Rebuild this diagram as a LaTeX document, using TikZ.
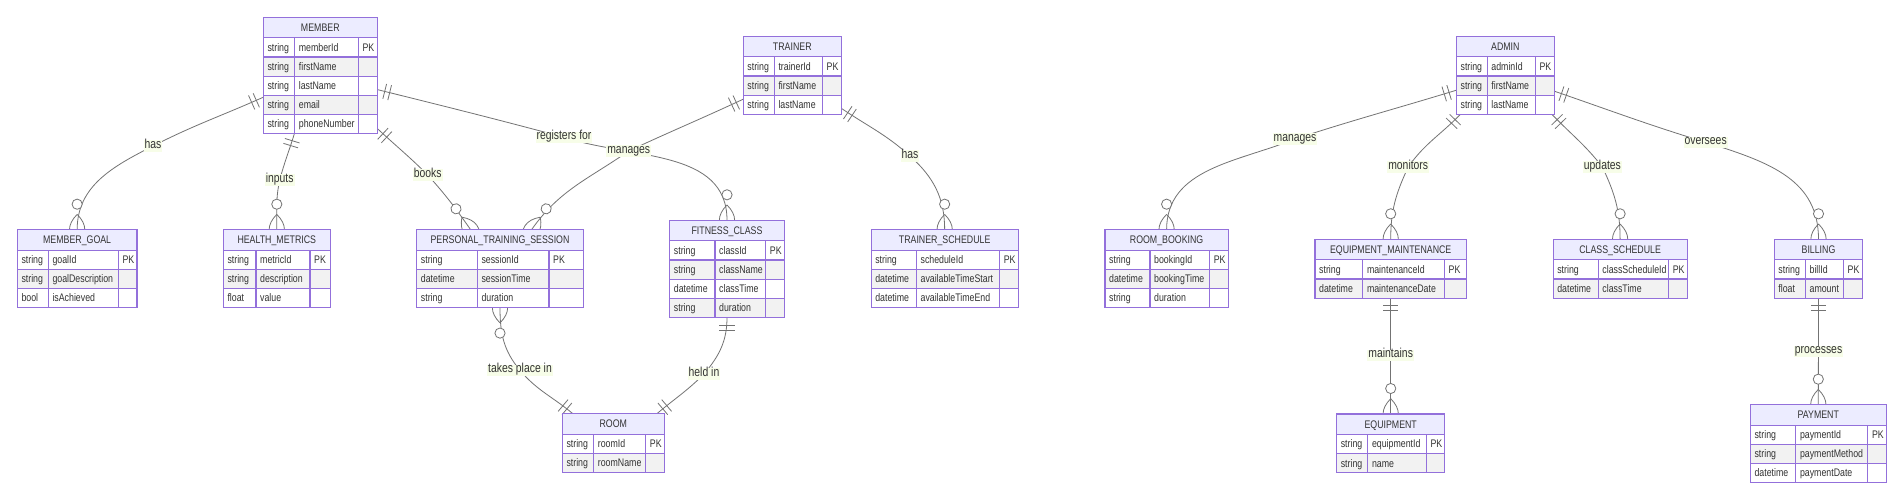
\documentclass[tikz,border=0pt]{standalone}
\usepackage{fontspec}
\setmainfont{Liberation Sans}[FakeStretch=0.8]
\usetikzlibrary{calc}
\definecolor{erpurple}{RGB}{147,112,219}
\definecolor{hdrfill}{RGB}{236,236,255}
\definecolor{rowgray}{RGB}{242,242,242}
\definecolor{txt}{RGB}{51,51,51}
\definecolor{linegray}{RGB}{115,115,115}
\definecolor{lblbg}{RGB}{247,253,232}
\pgfdeclarelayer{bgl}\pgfdeclarelayer{edges}\pgfsetlayers{bgl,edges,main}
\def\erhh{20.6}\def\errh{19.1}
\newcommand{\attrfont}{\fontsize{11}{12}\selectfont}
\newcommand{\lblfont}{\fontsize{13}{14}\selectfont}
\tikzset{
  erline/.style={draw=erpurple,line width=1.1pt},
  attr/.style={anchor=base west,inner sep=0pt,font=\attrfont,text=txt},
  etitle/.style={anchor=base,inner sep=0pt,font=\attrfont,text=txt},
  ebox/.style={inner sep=0pt,outer sep=0pt},
  relline/.style={draw=linegray,line width=0.8pt},
  lbl/.style={fill=lblbg,inner sep=1pt,font=\lblfont,text=txt,text height=0.72em,text depth=0.22em},
  onebar/.pic={\draw[relline] (7.65,-7.65) -- (7.65,7.65) (12.75,-7.65) -- (12.75,7.65);},
  zmany/.pic={\draw[relline] (15.3,0) .. controls (5.1,10.2) and (-5.1,10.2) .. (-15.3,0)
      (15.3,0) .. controls (5.1,-10.2) and (-5.1,-10.2) .. (-15.3,0);
      \draw[relline,fill=white] (25.5,0) circle[radius=5.1];}
}
% #1 name, #2 left, #3 top, #4 col1, #5 col2, #6 right, #7 title, #8 rows
\newcommand{\erbox}[8]{%
  \gdef\ern{0}%
  \foreach \ty/\nm/\ky [count=\i] in {#8} {\xdef\ern{\i}}%
  \pgfmathsetmacro{\erH}{\erhh+\ern*\errh}%
  \pgfmathsetmacro{\erW}{#6-#2}%
  \node[ebox,minimum width=\erW pt,minimum height=\erH pt,anchor=north west] (#1) at (#2,-#3) {};
  \fill[hdrfill] (#2,-#3) rectangle (#6,-#3-\erhh);
  \node[etitle] at ({(#2+#6)/2},-#3-\erhh/2-3.9) {#7};
  \foreach \ty/\nm/\ky [count=\i from 0] in {#8} {
    \pgfmathsetmacro{\yt}{#3+\erhh+\i*\errh}
    \pgfmathsetmacro{\yb}{\yt+\errh}
    \pgfmathsetmacro{\yc}{\yt+\errh/2+3.8}
    \ifodd\i\relax \def\rf{rowgray}\else\def\rf{white}\fi
    \fill[\rf] (#2,-\yt) rectangle (#6,-\yb);
    \draw[erline] (#2,-\yt) -- (#6,-\yt);
    \node[attr] at (#2+4,-\yc) {\ty};
    \node[attr] at (#4+4,-\yc) {\nm};
    \node[attr] at (#5+4,-\yc) {\ky};
  }
  \draw[erline] (#4,-#3-\erhh) -- (#4,-#3-\erH) (#5,-#3-\erhh) -- (#5,-#3-\erH);
  \draw[erline] (#1.north west) rectangle (#1.south east);
}
\begin{document}
\begin{tikzpicture}[x=1pt,y=1pt]
\useasboundingbox (0,0) rectangle (1904,-500);
\begin{pgfonlayer}{bgl}
\fill[white] (0,0) rectangle (1904,-500);
\end{pgfonlayer}
% entities
\erbox{member}{263.3}{17.3}{294.7}{358.3}{377.3}{MEMBER}{string/memberId/PK,string/firstName/{},string/lastName/{},string/email/{},string/phoneNumber/{}}
\erbox{mgoal}{17.3}{229.7}{48.3}{118.3}{137}{MEMBER\_GOAL}{string/goalId/PK,string/goalDescription/{},bool/isAchieved/{}}
\erbox{health}{223.3}{229.7}{256}{310}{330.3}{HEALTH\_METRICS}{string/metricId/PK,string/description/{},float/value/{}}
\erbox{pts}{416.7}{229.7}{477.3}{549}{583.3}{PERSONAL\_TRAINING\_SESSION}{string/sessionId/PK,datetime/sessionTime/{},string/duration/{}}
\erbox{fc}{669.7}{220.3}{715}{765.7}{784.3}{FITNESS\_CLASS}{string/classId/PK,string/className/{},datetime/classTime/{},string/duration/{}}
\erbox{room}{562.3}{413.7}{593.7}{645.7}{664.3}{ROOM}{string/roomId/PK,string/roomName/{}}
\erbox{trainer}{743.2}{36.3}{774.3}{822.5}{841.4}{TRAINER}{string/trainerId/PK,string/firstName/{},string/lastName/{}}
\erbox{tsched}{871.1}{229.7}{916.4}{999.6}{1018.2}{TRAINER\_SCHEDULE}{string/scheduleId/PK,datetime/availableTimeStart/{},datetime/availableTimeEnd/{}}
\erbox{rbook}{1105}{229.7}{1150}{1209.6}{1228.2}{ROOM\_BOOKING}{string/bookingId/PK,datetime/bookingTime/{},string/duration/{}}
\erbox{admin}{1456.4}{36.3}{1487.2}{1535.4}{1554.2}{ADMIN}{string/adminId/PK,string/firstName/{},string/lastName/{}}
\erbox{emaint}{1315}{239.3}{1362.8}{1444.5}{1466.4}{EQUIPMENT\_MAINTENANCE}{string/maintenanceId/PK,datetime/maintenanceDate/{}}
\erbox{csched}{1553.1}{239.3}{1598.2}{1668.6}{1687.1}{CLASS\_SCHEDULE}{string/classScheduleId/PK,datetime/classTime/{}}
\erbox{billing}{1774.2}{239.3}{1805.4}{1843.5}{1862.8}{BILLING}{string/billId/PK,float/amount/{}}
\erbox{equip}{1336.6}{414}{1367.8}{1426.3}{1444.8}{EQUIPMENT}{string/equipmentId/PK,string/name/{}}
\erbox{payment}{1750.3}{404.7}{1795.8}{1867.8}{1886.3}{PAYMENT}{string/paymentId/PK,string/paymentMethod/{},datetime/paymentDate/{}}
% labels
\node[lbl] (lhasa) at (153,-146) {has};
\node[lbl] (linputs) at (279.7,-180) {inputs};
\node[lbl] (lbooks) at (427.7,-175) {books};
\node[lbl] (lreg) at (564,-137.3) {registers for};
\node[lbl] (lmana) at (628.7,-151) {manages};
\node[lbl] (lhasb) at (910,-156) {has};
\node[lbl] (lmanb) at (1295,-139) {manages};
\node[lbl] (lmon) at (1408.2,-167) {monitors};
\node[lbl] (lupd) at (1602.4,-167) {updates};
\node[lbl] (lover) at (1705.6,-142.3) {oversees};
\node[lbl] (lmaint) at (1390.7,-355.3) {maintains};
\node[lbl] (lproc) at (1818.5,-351.3) {processes};
\node[lbl] (ltakes) at (520,-370.3) {takes place in};
\node[lbl] (lheld) at (704,-374) {held in};
% relationships
\begin{pgfonlayer}{edges}
\draw[relline] (member.201) to[out=204,in=27] (lhasa.center) to[out=207,in=90] (mgoal.north);
\path (member.201) pic[rotate=204]{onebar} (mgoal.north) pic[rotate=90]{zmany};
\draw[relline] (member.246) to[out=253,in=75] (linputs.center) to[out=258,in=90] (health.north);
\path (member.246) pic[rotate=253]{onebar} (health.north) pic[rotate=90]{zmany};
\draw[relline] (member.317) to[out=317,in=135] (lbooks.center) to[out=312,in=125] (pts.127);
\path (member.317) pic[rotate=317]{onebar} (pts.127) pic[rotate=125]{zmany};
\draw[relline] (member.346) to[out=346,in=165] (lreg.center) to[out=342,in=90] (fc.north);
\path (member.346) pic[rotate=346]{onebar} (fc.north) pic[rotate=90]{zmany};
\draw[relline] (trainer.206) to[out=205,in=25] (lmana.center) to[out=215,in=55] (pts.51);
\path (trainer.206) pic[rotate=205]{onebar} (pts.51) pic[rotate=55]{zmany};
\draw[relline] (trainer.326) to[out=326,in=138] (lhasb.center) to[out=318,in=90] (tsched.north);
\path (trainer.326) pic[rotate=326]{onebar} (tsched.north) pic[rotate=90]{zmany};
\draw[relline] (admin.197) to[out=197,in=18] (lmanb.center) to[out=202,in=90] (rbook.north);
\path (admin.197) pic[rotate=197]{onebar} (rbook.north) pic[rotate=90]{zmany};
\draw[relline] (admin.221) to[out=226,in=55] (lmon.center) to[out=245,in=90] (emaint.north);
\path (admin.221) pic[rotate=226]{onebar} (emaint.north) pic[rotate=90]{zmany};
\draw[relline] (admin.320) to[out=314,in=128] (lupd.center) to[out=295,in=90] (csched.north);
\path (admin.320) pic[rotate=314]{onebar} (csched.north) pic[rotate=90]{zmany};
\draw[relline] (admin.342) to[out=341,in=163] (lover.center) to[out=343,in=90,out looseness=1.2] (billing.north);
\path (admin.342) pic[rotate=341]{onebar} (billing.north) pic[rotate=90]{zmany};
\draw[relline] (emaint.south) -- (equip.north);
\path (emaint.south) pic[rotate=270]{onebar} (equip.north) pic[rotate=90]{zmany};
\draw[relline] (billing.south) -- (payment.north);
\path (billing.south) pic[rotate=270]{onebar} (payment.north) pic[rotate=90]{zmany};
\draw[relline] (pts.south) to[out=270,in=130] (ltakes.center) to[out=310,in=140] (room.144);
\path (pts.south) pic[rotate=270]{zmany} (room.144) pic[rotate=140]{onebar};
\draw[relline] (fc.south) to[out=270,in=50] (lheld.center) to[out=225,in=40] (room.34);
\path (fc.south) pic[rotate=270]{onebar} (room.34) pic[rotate=40]{onebar};
\end{pgfonlayer}
\end{tikzpicture}
\end{document}
